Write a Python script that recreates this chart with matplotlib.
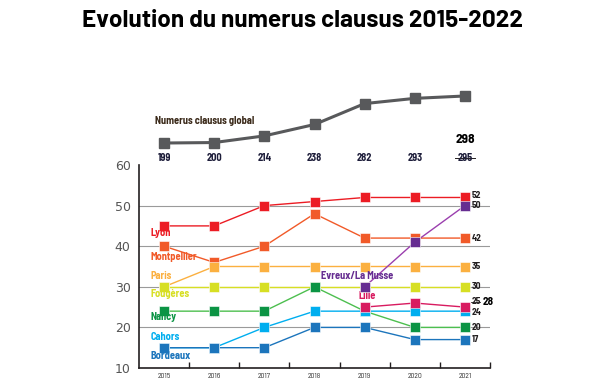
import matplotlib
matplotlib.use("Agg")
import matplotlib.pyplot as plt
import matplotlib.transforms as mtransforms

plt.rcParams['font.family'] = ['Barlow Semi Condensed', 'Barlow Condensed', 'DejaVu Sans']
plt.rcParams['font.weight'] = 'bold'

years = [2015, 2016, 2017, 2018, 2019, 2020, 2021]
global_nc = [199, 200, 214, 238, 282, 293, 298]
global_labels = ["199", "200", "214", "238", "282", "293", "295"]

# city series (None = no value)
lyon = [45, 45, 50, 51, 52, 52, 52]
montpellier = [40, 36, 40, 48, 42, 42, 42]
paris = [30, 35, 35, 35, 35, 35, 35]
fougeres = [30, 30, 30, 30, 30, 30, 30]
nancy = [24, 24, 24, 30, 24, 20, 20]
cahors = [15, 15, 20, 24, 24, 24, 24]
bordeaux = [15, 15, 15, 20, 20, 17, 17]
lille = [None, None, None, None, 25, 26, 25]
evreux = [None, None, None, None, 30, 41, 50]

# name, values, line colour, marker colour, label x, label y
series = [
    ("Lyon", lyon, "#ec1c24", "#ec1c24", 2014.72, 43.3),
    ("Montpellier", montpellier, "#f15a29", "#f15a29", 2014.72, 37.3),
    ("Paris", paris, "#fbb040", "#fbb040", 2014.72, 32.7),
    ("Fougères", fougeres, "#d7df23", "#d7df23", 2014.72, 28.2),
    ("Nancy", nancy, "#4dbf4f", "#0b9444", 2014.72, 22.6),
    ("Cahors", cahors, "#00aeef", "#00aeef", 2014.74, 17.6),
    ("Bordeaux", bordeaux, "#1c75bc", "#1c75bc", 2014.72, 13.0),
    ("Lille", lille, "#d81b60", "#d81b60", 2018.88, 27.7),
    ("Evreux/La Musse", evreux, "#9b3fae", "#662d91", 2018.12, 32.7),
]

end_labels = [("52", 52.4), ("50", 50.0), ("42", 42), ("35", 35), ("30", 30),
              ("24", 23.6), ("20", 20), ("17", 17)]

fig = plt.figure(figsize=(6, 3.84), dpi=100)
fig.text(0.505, 0.945, "Evolution du numerus clausus 2015-2022", ha="center", va="center",
         fontsize=17.5, fontweight="bold", color="black", family=["Barlow", "DejaVu Sans"])

# main chart
ax = fig.add_axes([139 / 600, 16 / 384, 351 / 600, 203 / 384])
ax.set_xlim(2014.5, 2021.5)
ax.set_ylim(10, 60)
for y in [20, 30, 40, 50]:
    ax.axhline(y, color="#9a9a9a", lw=0.8, zorder=1)

for name, vals, lc, mc, lx, ly in series:
    xs = [x for x, v in zip(years, vals) if v is not None]
    vs = [v for v in vals if v is not None]
    ax.plot(xs, vs, color=lc, lw=1.0, zorder=2)
    ax.plot(xs, vs, ls="none", marker="s", ms=6.5, mfc=mc, mec="white", mew=0.4, zorder=3)
    ax.text(lx, ly, name, color=mc, fontsize=7.5, fontweight="bold", va="center", ha="left")

for txt, y in end_labels:
    ax.text(2021.13, y, txt, fontsize=6.8, fontweight="bold", color="#231f20", va="center")
ax.text(2021.13, 26.3, "25", fontsize=6.8, fontweight="bold", color="#231f20", va="center")
ax.plot([2021.13, 2021.31], [26.3, 26.3], color="#231f20", lw=0.6, clip_on=False)
ax.text(2021.36, 26.3, "28", fontsize=8, fontweight="bold", color="black", va="center")

ax.set_yticks([10, 20, 30, 40, 50, 60])
ax.set_xticks([y + 0.5 for y in years[:-1]] + [2021.5])
ax.set_xticklabels([])
ax.tick_params(axis="y", length=0, labelsize=9, labelcolor="#555555", pad=6)
ax.tick_params(axis="x", direction="in", length=4, width=1, color="#231f20")
for yr in years:
    ax.text(yr, 7.8, str(yr), fontsize=5.5, fontweight="normal", color="#333333", ha="center", va="center")
for s in ["top", "right"]:
    ax.spines[s].set_visible(False)
for s in ["left", "bottom"]:
    ax.spines[s].set_color("#231f20")
    ax.spines[s].set_linewidth(1.2)
for lbl in ax.get_yticklabels():
    lbl.set_family(["DejaVu Sans"])
    lbl.set_fontweight("normal")

# global numerus clausus line
axg = fig.add_axes([139 / 600, 234 / 384, 351 / 600, 60 / 384])
axg.set_xlim(2014.5, 2021.5)
axg.set_ylim(184.3, 310.6)
axg.axis("off")
axg.plot(years, global_nc, color="#58595b", lw=2.2, marker="s", ms=6.5, mfc="#58595b", mec="#58595b")
tr = mtransforms.blended_transform_factory(axg.transData, axg.transAxes)
for x, t in zip(years, global_labels):
    axg.text(x, -0.13, t, transform=tr, fontsize=7.5, fontweight="bold", color="#1d1d3a",
             ha="center", va="center")
axg.plot([2020.8, 2021.2], [-0.13, -0.13], transform=tr, color="#231f20", lw=0.7, clip_on=False)
axg.text(2021, 0.17, "298", transform=tr, fontsize=9.5, fontweight="bold", color="black",
         ha="center", va="center")
axg.text(2014.82, 0.48, "Numerus clausus global", transform=tr, fontsize=7.5, fontweight="bold",
         color="#3b2a1a", ha="left", va="center")

fig.savefig("out.png", dpi=100)
